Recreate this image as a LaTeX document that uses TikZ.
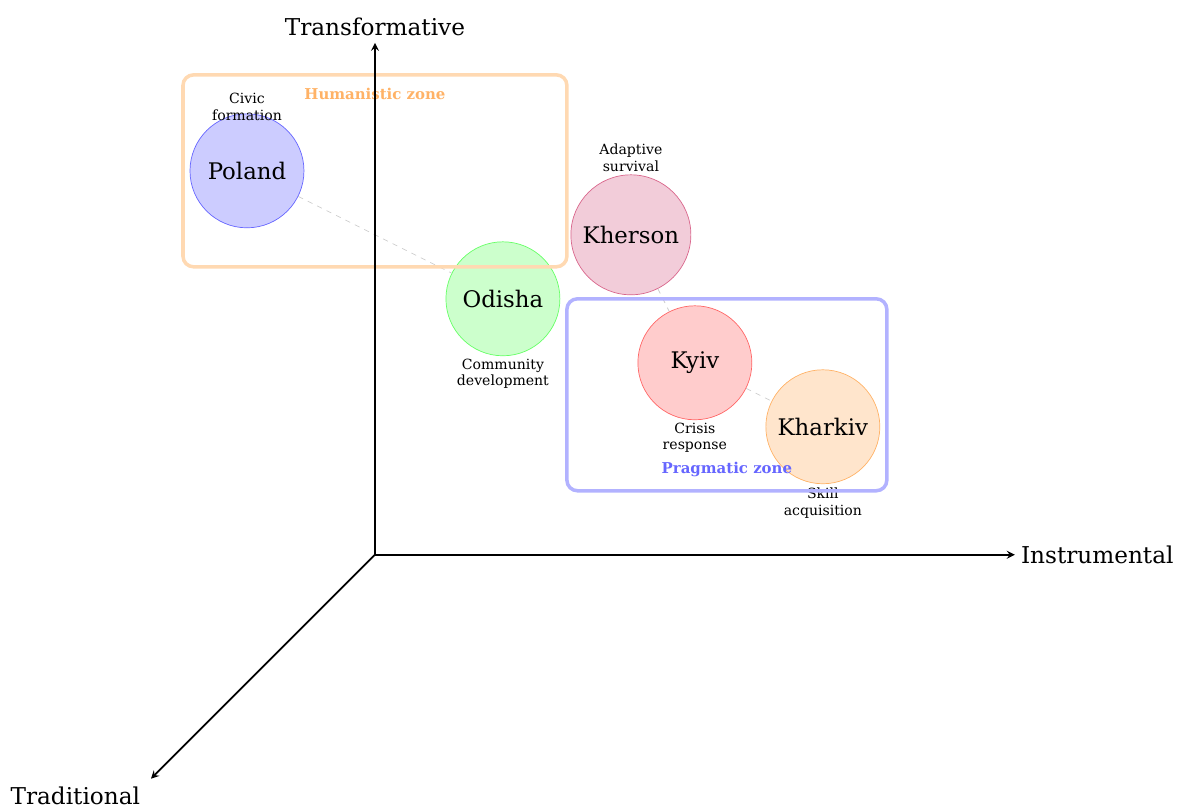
\documentclass[tikz,border=0pt]{standalone}
\usepackage{fontspec}
\setmainfont{DejaVu Serif}
\usepackage{tikz}
\pgfdeclarelayer{edgelayer}
\pgfdeclarelayer{nodelayer}
\pgfsetlayers{edgelayer,nodelayer,main}
\tikzstyle{axis}=[draw=black,line width=1pt,-stealth]
\tikzstyle{region}=[circle,draw,minimum size=2.28cm,inner sep=0pt,font=\fontsize{13}{15}\selectfont]
\tikzstyle{note}=[align=center,font=\footnotesize,inner sep=1pt]
\tikzstyle{link}=[draw=gray!40,dashed]
\tikzstyle{zone}=[rounded corners=6pt,line width=2pt]
\tikzstyle{zonename}=[font=\fontsize{8.5}{10}\selectfont\bfseries]
\tikzstyle{axisname}=[font=\fontsize{13.2}{15}\selectfont]

\begin{document}
\begin{tikzpicture}[x=1.28cm,y=1.28cm]
\useasboundingbox ( -5.86 , -3.97 ) rectangle ( 12.66 , 8.67 );
\begin{pgfonlayer}{nodelayer}
\node[region,fill=blue!20,draw=blue!60] (poland) at ( -2 , 6 ){Poland};
\node[region,fill=green!20,draw=green!60] (odisha) at ( 2 , 4 ){Odisha};
\node[region,fill=purple!20,draw=purple!60,minimum size=2.4cm] (kherson) at ( 4 , 5 ){Kherson};
\node[region,fill=red!20,draw=red!60] (kyiv) at ( 5 , 3 ){Kyiv};
\node[region,fill=orange!20,draw=orange!60] (kharkiv) at ( 7 , 2 ){Kharkiv};
\node[note] (civic) at ( -2 , 7.0 ){Civic\\formation};
\node[note] (adaptive) at ( 4 , 6.2 ){Adaptive\\survival};
\node[note] (community) at ( 2 , 2.83 ){Community\\development};
\node[note] (crisis) at ( 5 , 1.83 ){Crisis\\response};
\node[note] (skill) at ( 7 , 0.81 ){Skill\\acquisition};
\end{pgfonlayer}
\begin{pgfonlayer}{edgelayer}
\draw[link] (poland)--(odisha);
\draw[link] (kherson)--(kyiv);
\draw[link] (kyiv)--(kharkiv);
\end{pgfonlayer}
% zones
\draw[zone,orange!30] ( -3 , 4.5 ) rectangle ( 3 , 7.5 );
\node[zonename,text=orange!60] (humanistic) at ( 0 , 7.2 ){Humanistic zone};
\draw[zone,blue!30] ( 3 , 1 ) rectangle ( 8 , 4 );
\node[zonename,text=blue!60] (pragmatic) at ( 5.5 , 1.33 ){Pragmatic zone};
% axes
\coordinate (origin) at ( 0 , 0 );
\coordinate (up) at ( 0 , 8 );
\coordinate (right) at ( 10 , 0 );
\coordinate (down) at ( -3.5 , -3.5 );
\draw[axis] (origin)--(up);
\draw[axis] (origin)--(right);
\draw[axis] (origin)--(down);
\node[axisname,above,inner sep=4pt] (transformative) at (up){Transformative};
\node[axisname,below left,inner sep=2pt,xshift=-4pt,yshift=-2.5pt] (traditional) at (down){Traditional};
\node[axisname,right] (instrumental) at (right){Instrumental};
\end{tikzpicture}
\end{document}
